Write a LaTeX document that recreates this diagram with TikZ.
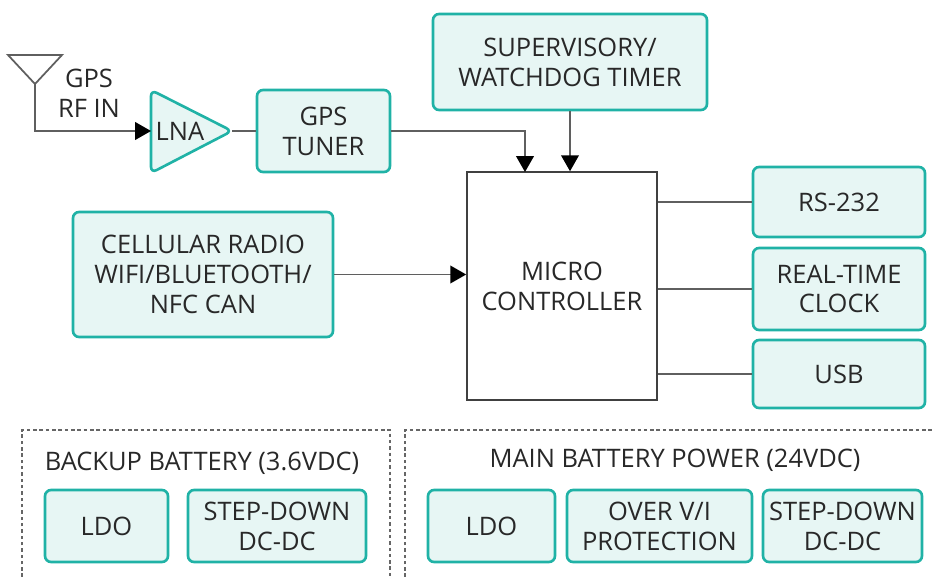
\documentclass[tikz,border=0pt]{standalone}
\usepackage{fontspec}
\setmainfont{Open Sans}
\usetikzlibrary{arrows.meta,calc,fit}
\definecolor{tealline}{RGB}{32,178,166}
\definecolor{tealfill}{RGB}{231,246,244}
\definecolor{wiregray}{RGB}{95,95,95}
\definecolor{txtgray}{RGB}{40,40,40}
\tikzset{
  ttl/.style={text=txtgray, font=\fontsize{14.5}{17}\selectfont, align=center, inner sep=0pt},
  blk/.style={draw=tealline, fill=tealfill, line width=1.5pt, rounded corners=3.5pt, inner sep=0pt},
  mcublk/.style={draw=black!75, line width=0.9pt, inner sep=0pt},
  wire/.style={draw=wiregray, line width=1pt},
  arr/.style={wire, -{Triangle[length=9pt,width=10pt,color=black]}},
  grp/.style={draw=black!60, line width=0.8pt, dash pattern=on 2pt off 1.6pt},
}
\begin{document}
\begin{tikzpicture}[x=0.02cm,y=-0.02cm]
  \useasboundingbox (0,0) rectangle (935,577);

  % top row: antenna, LNA, tuner, supervisor
  \node[blk, fit={(433,14) (707,110)}, label={[ttl]center:SUPERVISORY/\\WATCHDOG TIMER}] (sup) {};
  \node[blk, fit={(257,90) (390,172)}, label={[ttl]center:GPS\\TUNER}] (gps) {};
  \draw[wire] (8,55) -- (62,55) -- (35,84) -- cycle;   % antenna
  \coordinate (ant) at (35,84);
  \node[ttl] (rfin) at (89,93) {GPS\\RF IN};
  \draw[blk] (151,90) -- (232,131) -- (151,173) -- cycle;  % amplifier
  \coordinate (lnain) at (151,131);
  \coordinate (lnaout) at (232,131);
  \node[ttl] (lna) at (180,131) {LNA};

  % controller and its peripherals
  \node[mcublk, fit={(467,172) (657,400)}, label={[ttl]center:MICRO\\CONTROLLER}] (mcu) {};
  \node[blk, fit={(73,212) (333,337)}, label={[ttl]center:CELLULAR RADIO\\WIFI/BLUETOOTH/\\NFC CAN}] (cell) {};
  \node[blk, fit={(753,167) (925,237)}, label={[ttl]center:RS-232}] (rs) {};
  \node[blk, fit={(753,248) (925,330)}, label={[ttl]center:REAL-TIME\\CLOCK}] (rtc) {};
  \node[blk, fit={(753,340) (925,408)}, label={[ttl]center:USB}] (usb) {};
  \coordinate (mcuin) at (525,172);

  \draw[arr] (ant) |- (lnain);
  \draw[wire] (lnaout) -- (gps.west);
  \draw[arr] (gps.east) -| (mcuin);
  \draw[arr] (sup.south) -- (sup.south |- mcu.north);
  \draw[arr] (cell.east) -- (cell.east -| mcu.west);
  \draw[wire] (mcu.east |- rs.west) -- (rs.west);
  \draw[wire] (mcu.east |- rtc.west) -- (rtc.west);
  \draw[wire] (mcu.east |- usb.west) -- (usb.west);

  % power groups
  \draw[grp] (22,577) -- (22,430) -- (390,430) -- (390,577);
  \draw[grp] (405,577) -- (405,430) -- (935,430);
  \node[ttl] (bkttl) at (202,463) {BACKUP BATTERY (3.6VDC)};
  \node[ttl] (mnttl) at (675,460) {MAIN BATTERY POWER (24VDC)};
  \node[blk, fit={(45,490) (168,562)}, label={[ttl]center:LDO}] (bldo) {};
  \node[blk, fit={(188,490) (366,562)}, label={[ttl]center:STEP-DOWN\\DC-DC}] (bstep) {};
  \node[blk, fit={(428,490) (555,562)}, label={[ttl]center:LDO}] (mldo) {};
  \node[blk, fit={(567,490) (752,562)}, label={[ttl]center:OVER V/I\\PROTECTION}] (mover) {};
  \node[blk, fit={(763,490) (922,562)}, label={[ttl]center:STEP-DOWN\\DC-DC}] (mstep) {};
\end{tikzpicture}
\end{document}
